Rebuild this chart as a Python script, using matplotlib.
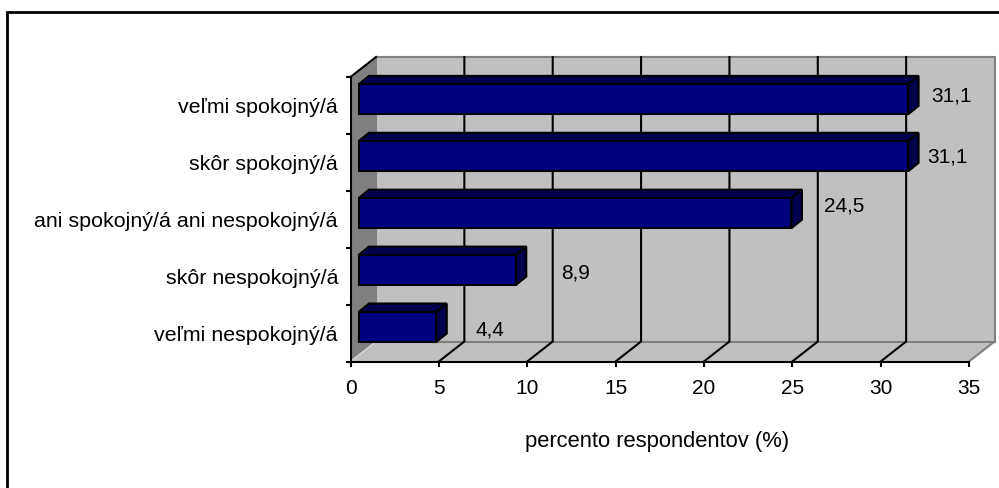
import matplotlib
matplotlib.use("Agg")
import matplotlib.pyplot as plt
from matplotlib.patches import Polygon, Rectangle

plt.rcParams["font.family"] = ["Liberation Sans", "DejaVu Sans"]

categories = ["veľmi nespokojný/á", "skôr nespokojný/á", "ani spokojný/á ani nespokojný/á",
              "skôr spokojný/á", "veľmi spokojný/á"]
values = [4.4, 8.9, 24.5, 31.1, 31.1]
value_labels = ["4,4", "8,9", "24,5", "31,1", "31,1"]
x_ticks = [0, 5, 10, 15, 20, 25, 30, 35]

W, H = 999, 488
fig = plt.figure(figsize=(W / 100, H / 100), dpi=100)
L, R, T, B = 350.5, 969, 77, 361.5
ax = fig.add_axes([L / W, 1 - B / H, (R - L) / W, (B - T) / H])
ax.set_xlim(0, 35)
ax.set_ylim(0, 5)
ax.patch.set_visible(False)

px_x = (R - L) / 35
px_y = (B - T) / 5
wall_dx = 25.5 / px_x
wall_dy = 20 / px_y
bar_dx = 10.5 / px_x
bar_dy = 8.5 / px_y
bar_left = 8 / px_x
bar_bottom = 19.5 / px_y
bar_h = 30 / px_y

GREY = "#c0c0c0"
DARK = "#808080"
lw = 1.5
FS = 15


def poly(pts, fc, ec="none", z=1, w=lw):
    ax.add_patch(Polygon(pts, closed=True, fc=fc, ec=ec, lw=w, zorder=z, clip_on=False,
                         joinstyle="miter"))


# walls and floor
poly([(wall_dx, wall_dy), (35 + wall_dx, wall_dy), (35 + wall_dx, 5 + wall_dy), (wall_dx, 5 + wall_dy)],
     GREY, DARK, 1)
poly([(0, 0), (wall_dx, wall_dy), (wall_dx, 5 + wall_dy), (0, 5)], DARK, "none", 1)
poly([(0, 0), (35, 0), (35 + wall_dx, wall_dy), (wall_dx, wall_dy)], GREY, "none", 1)
ax.plot([35, 35 + wall_dx], [0, wall_dy], color=DARK, lw=lw, zorder=1.5, clip_on=False)
ax.plot([wall_dx, 35 + wall_dx], [wall_dy, wall_dy], color=DARK, lw=lw, zorder=1.5, clip_on=False)
ax.plot([0, wall_dx], [0, wall_dy], color="#d8d8d8", lw=1, zorder=1.5, clip_on=False)
ax.plot([0, wall_dx], [5, 5 + wall_dy], color="black", lw=lw, zorder=1.5, clip_on=False)

# gridlines across floor and back wall
for t in x_ticks[1:-1]:
    ax.plot([t, t + wall_dx, t + wall_dx], [0, wall_dy, 5 + wall_dy], color="black", lw=lw,
            zorder=2, clip_on=False, solid_joinstyle="miter")

# bars
pos = [i + bar_bottom for i in range(len(values))]
ax.barh(pos, values, left=bar_left, height=bar_h, align="edge", color="#000080",
        edgecolor="black", linewidth=lw, zorder=4)
for y, v in zip(pos, values):
    x1 = bar_left + v
    y1 = y + bar_h
    poly([(bar_left, y1), (x1, y1), (x1 + bar_dx, y1 + bar_dy), (bar_left + bar_dx, y1 + bar_dy)],
         "#00004d", "black", 3)
    poly([(x1, y), (x1 + bar_dx, y + bar_dy), (x1 + bar_dx, y1 + bar_dy), (x1, y1)],
         "#00004d", "black", 3)

# value labels were moved by hand in the original, so each has its own offset
label_dx = [54, 60, 53, 39, 43]
label_dy = [7, 7, 17, 9, 13]
for i, (v, s) in enumerate(zip(values, value_labels)):
    ax.annotate(s, (bar_left + v, i + 0.5), xytext=(label_dx[i], label_dy[i] - 4),
                textcoords="offset pixels", ha="center", va="center",
                fontsize=FS, color="black", zorder=5, annotation_clip=False)

# axes
for s in ["top", "right"]:
    ax.spines[s].set_visible(False)
for s in ["left", "bottom"]:
    ax.spines[s].set_linewidth(lw)
    ax.spines[s].set_zorder(6)
ax.set_xticks(x_ticks)
ax.set_yticks(range(6))
ax.set_yticklabels([])
ax.tick_params(axis="both", which="major", length=3.5, width=lw, labelsize=FS, pad=9)
ax.set_yticks([i + 0.5 for i in range(5)], minor=True)
ax.set_yticklabels(categories, minor=True)
ax.tick_params(axis="y", which="minor", length=0, pad=9, labelsize=15.4)
ax.set_xlabel("percento respondentov (%)", fontsize=15.8, labelpad=24, x=0.496)

# chart border, only top and left fall inside the picture
fig.add_artist(Rectangle((7 / W, -0.1), 1.1, 1.1 - 12.5 / H, transform=fig.transFigure,
                         fc="none", ec="black", lw=2))

fig.savefig("out.png", dpi=100)
